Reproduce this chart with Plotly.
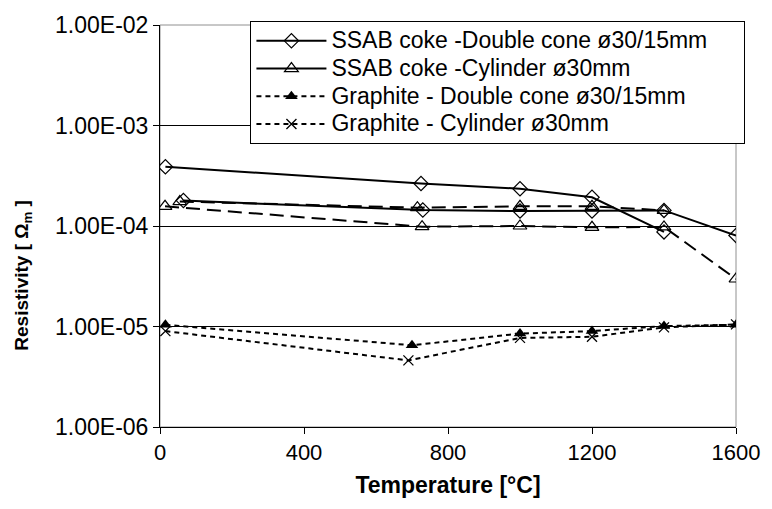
import plotly.graph_objects as go

# SSAB coke - Double cone (two runs, solid, open diamonds)
dc1_t = [15, 725, 1000, 1200, 1400]
dc1_r = [3.88e-4, 2.65e-4, 2.35e-4, 1.93e-4, 8.74e-5]
dc2_t = [65, 730, 1000, 1200, 1400, 1600]
dc2_r = [1.79e-4, 1.44e-4, 1.41e-4, 1.41e-4, 1.43e-4, 8.04e-5]

# SSAB coke - Cylinder (two runs, long dash, open triangles)
cy1_t = [14, 728, 1000, 1200, 1400, 1600]
cy1_r = [1.57e-4, 9.84e-5, 1.0e-4, 9.71e-5, 9.78e-5, 2.97e-5]
cy2_t = [55, 715, 1000, 1200, 1400]
cy2_r = [1.75e-4, 1.52e-4, 1.57e-4, 1.57e-4, 1.43e-4]

# Graphite - Double cone (short dash, filled triangles)
gdc_t = [15, 700, 1000, 1200, 1400, 1600]
gdc_r = [1.04e-5, 6.5e-6, 8.5e-6, 9.0e-6, 1.01e-5, 1.04e-5]
# Graphite - Cylinder (short dash, x markers)
gcy_t = [15, 690, 1000, 1200, 1400, 1600]
gcy_r = [9.0e-6, 4.6e-6, 7.7e-6, 7.9e-6, 9.8e-6, 1.05e-5]

names = ["SSAB coke -Double cone ø30/15mm", "SSAB coke -Cylinder ø30mm",
         "Graphite - Double cone ø30/15mm", "Graphite - Cylinder ø30mm"]

y_tickvals = [1e-6, 1e-5, 1e-4, 1e-3, 1e-2]
y_ticktext = ["1.00E-06", "1.00E-05", "1.00E-04", "1.00E-03", "1.00E-02"]
x_tickvals = [0, 400, 800, 1200, 1600]

FONT = "Arial, Liberation Sans, sans-serif"
PAD = "\u00a0" * 5


def lg(name):
    return '<span style="font-size:23px">' + name + PAD + '</span>'


fig = go.Figure()

diam = dict(symbol="diamond-open", size=11, color="black", line=dict(width=1.2, color="black"))
tri_open = dict(symbol="triangle-up-open", size=12, color="black", line=dict(width=1.2, color="black"))
tri_fill = dict(symbol="triangle-up", size=11, color="black")
xmark = dict(symbol="x-thin-open", size=10, color="black", line=dict(width=1.3, color="black"))
short_dash = "5px,4px"
long_dash = "14px,7px"

fig.add_trace(go.Scatter(x=dc1_t, y=dc1_r, mode="lines+markers", name=lg(names[0]),
                         line=dict(color="black", width=2), marker=diam, showlegend=True))
fig.add_trace(go.Scatter(x=dc2_t, y=dc2_r, mode="lines+markers", name=names[0],
                         line=dict(color="black", width=2), marker=diam, showlegend=False))
fig.add_trace(go.Scatter(x=cy1_t, y=cy1_r, mode="lines+markers", name=names[1],
                         line=dict(color="black", width=2, dash=long_dash), marker=tri_open, showlegend=False))
fig.add_trace(go.Scatter(x=cy2_t, y=cy2_r, mode="lines+markers", name=names[1],
                         line=dict(color="black", width=2, dash=long_dash), marker=tri_open, showlegend=False))
# legend sample for cylinder is drawn solid in the original
fig.add_trace(go.Scatter(x=[None], y=[None], mode="lines+markers", name=lg(names[1]),
                         line=dict(color="black", width=2), marker=tri_open, showlegend=True))
fig.add_trace(go.Scatter(x=gdc_t, y=gdc_r, mode="lines+markers", name=lg(names[2]),
                         line=dict(color="black", width=2, dash=short_dash), marker=tri_fill))
fig.add_trace(go.Scatter(x=gcy_t, y=gcy_r, mode="lines+markers", name=lg(names[3]),
                         line=dict(color="black", width=2, dash=short_dash), marker=xmark))

fig.update_layout(
    width=772, height=509,
    margin=dict(l=160, r=25, t=17, b=82),
    paper_bgcolor="white", plot_bgcolor="white",
    font=dict(family=FONT, size=22, color="black"),
    legend=dict(x=0.157, y=1.01, xanchor="left", yanchor="top",
                bgcolor="white", bordercolor="black", borderwidth=1,
                font=dict(family=FONT, size=19), itemwidth=70,
                tracegroupgap=0),
    shapes=[dict(type="rect", xref="paper", yref="paper", x0=0, x1=1, y0=0, y1=1,
                 line=dict(color="#909090", width=1), layer="below")],
    annotations=[dict(text="<b>Resistivity [ Ω<sub>m</sub> ]</b>", textangle=-90,
                      xref="paper", yref="paper", x=-0.2385, y=0.378,
                      xanchor="center", yanchor="middle", showarrow=False,
                      font=dict(family=FONT, size=19))],
)
fig.update_xaxes(range=[0, 1600], tickvals=x_tickvals, ticks="outside", ticklen=6,
                 tickcolor="black", showline=True, linecolor="black", linewidth=1,
                 showgrid=False, zeroline=False,
                 title=dict(text="<b>Temperature [°C]</b>", font=dict(size=23), standoff=12),
                 tickfont=dict(size=22))
fig.update_yaxes(type="log", range=[-6, -2], tickvals=y_tickvals, ticktext=y_ticktext,
                 ticks="outside", ticklen=6, tickcolor="black", showline=True,
                 linecolor="black", linewidth=1, showgrid=True, gridcolor="black",
                 gridwidth=1, zeroline=False,
                 tickfont=dict(size=23))

fig.write_html("out.html")
